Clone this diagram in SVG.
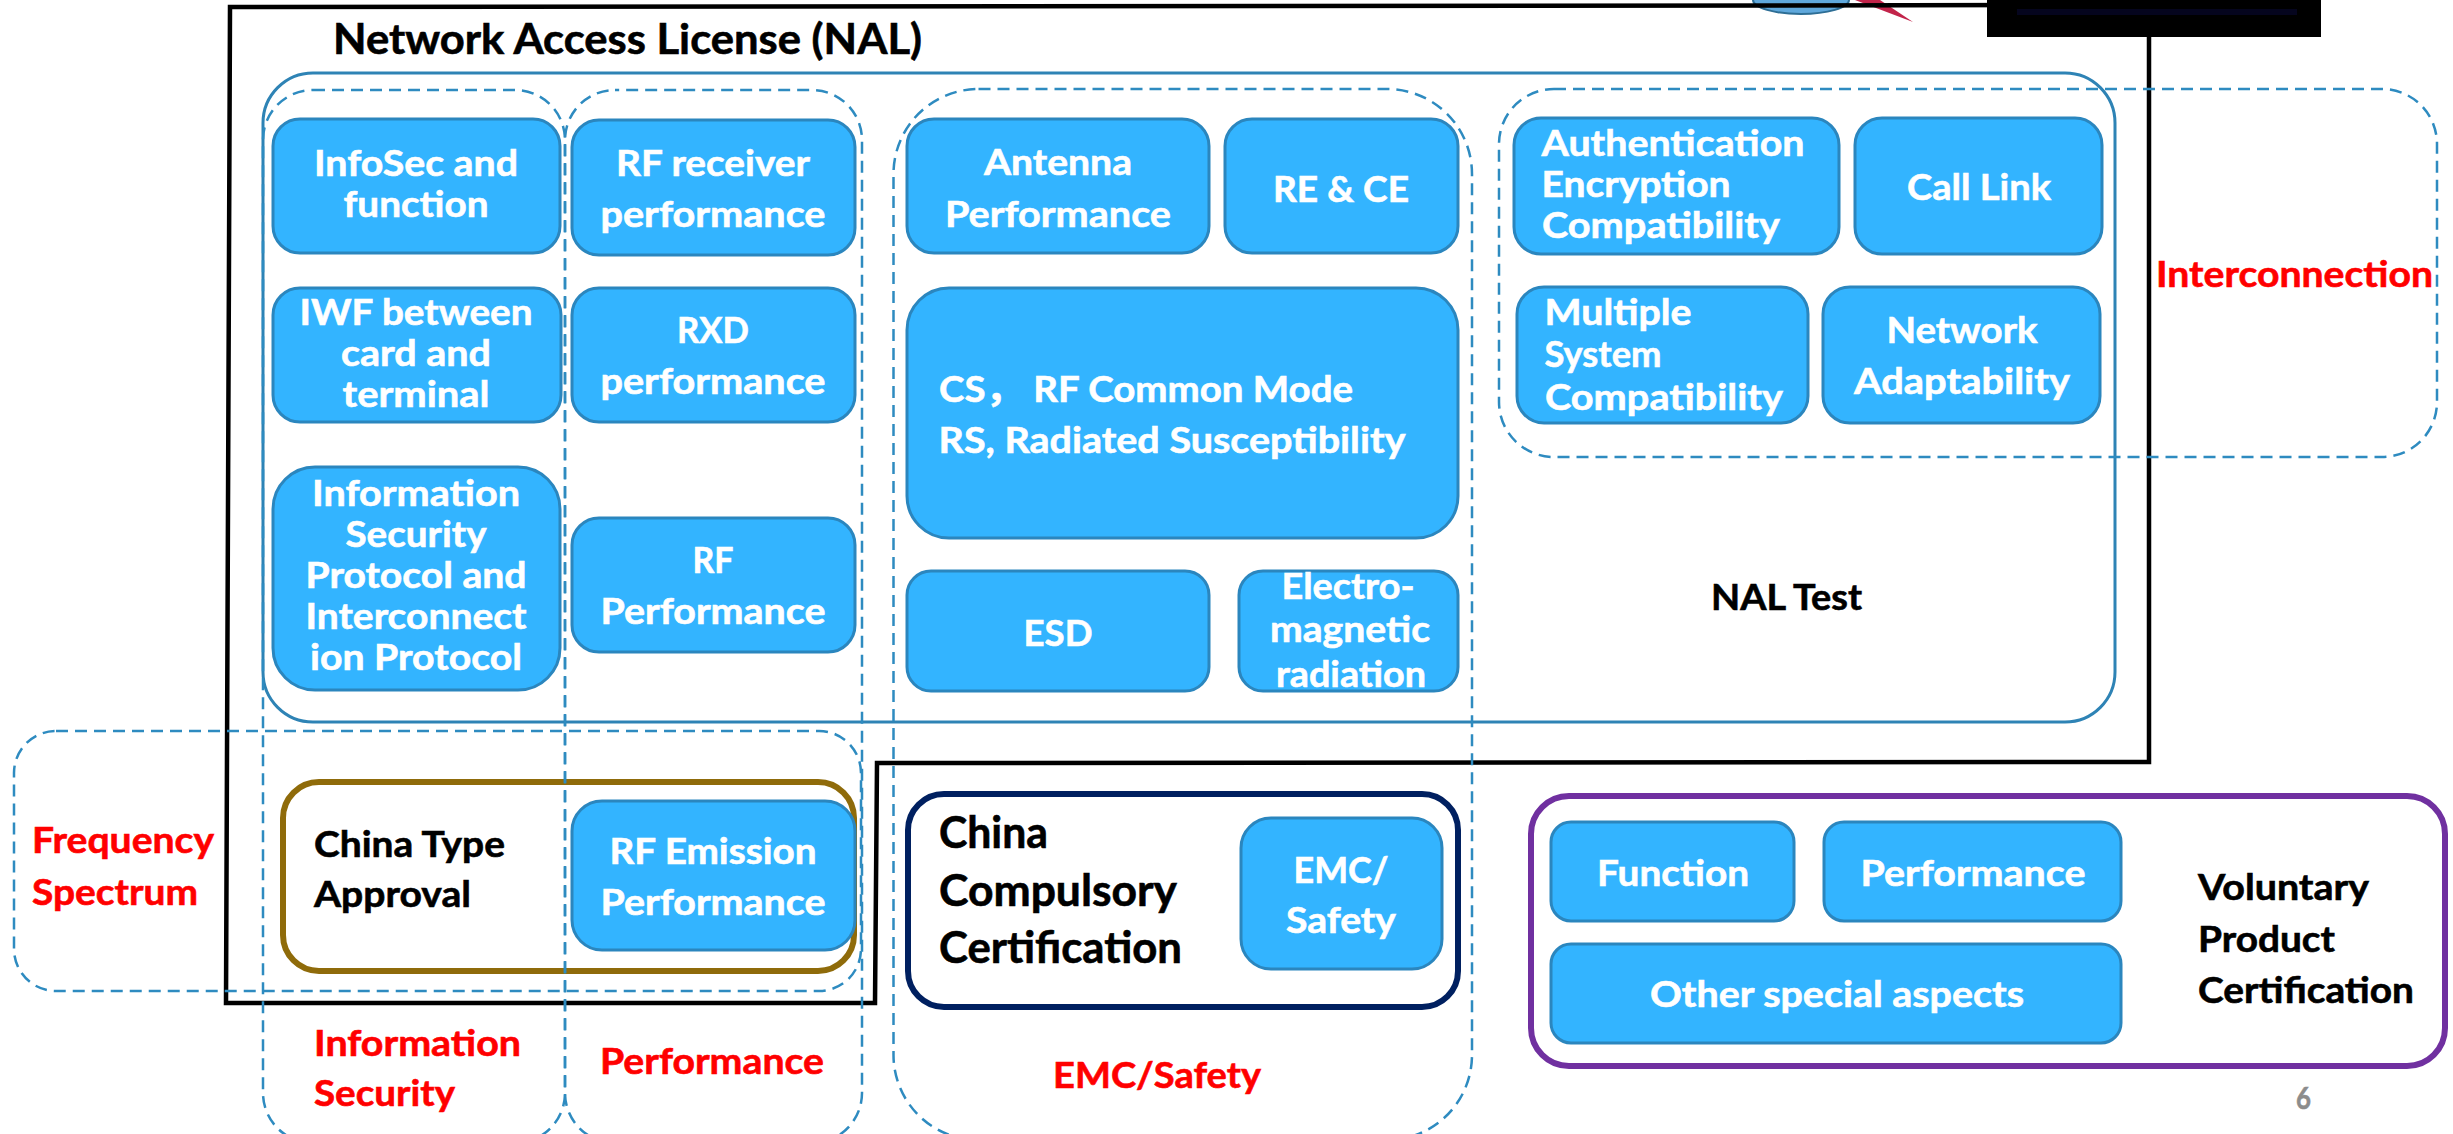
<svg xmlns="http://www.w3.org/2000/svg" width="2453" height="1134" viewBox="0 0 2453 1134">
<style>
text{font-family:Lato,"Noto Sans CJK SC",sans-serif;font-weight:700;font-size:37px;stroke-width:.6px;}
.w{fill:#fff;stroke:#fff;text-anchor:middle}
.k{fill:#000;stroke:#000}
.r{fill:#f00;stroke:#f00}
.b{fill:#33B4FF;stroke:#2B86BE;stroke-width:3}
.d{fill:none;stroke:#2E8BC0;stroke-width:2.5;stroke-dasharray:12 7}
.s{fill:none;stroke:#2E83B5;stroke-width:3}
</style>
<rect width="2453" height="1134" fill="#fff"/>
<g id="logo-fragment">
<ellipse cx="1801" cy="0" rx="48" ry="14" fill="#5FA8DC" stroke="#2E6E95" stroke-width="2"/>
<polygon points="1855,0 1880,0 1913,22" fill="#C2244A"/>
</g>
<g id="brand-frames">
<rect x="283" y="782" width="571" height="189" rx="36" fill="none" stroke="#8F6B0A" stroke-width="6"/>
<rect x="908" y="794" width="550" height="213" rx="36" fill="none" stroke="#002060" stroke-width="6"/>
<rect x="1531" y="796" width="914" height="270" rx="38" fill="none" stroke="#7030A0" stroke-width="6"/>
</g>
<g id="nal-frame">
<polygon points="230,7 2149,5 2149,762 877,763 875,1003 226,1003" fill="none" stroke="#000" stroke-width="4.5" stroke-linejoin="miter"/>
</g>
<g id="header-block">
<rect x="1987" y="0" width="334" height="37" fill="#000"/>
<rect x="2017" y="9" width="280" height="6" fill="#05051E"/>
</g>
<g id="nal-test-frame"><rect x="263" y="73" width="1852" height="649" rx="50" class="s"/></g>
<g id="n-infosec"><rect x="273" y="119" width="287" height="134" rx="27" class="b"/><text class="w" x="416" y="176" textLength="204" lengthAdjust="spacingAndGlyphs">InfoSec and</text><text class="w" x="416" y="217" textLength="145" lengthAdjust="spacingAndGlyphs">function</text></g>
<g id="n-rf-receiver"><rect x="572" y="120" width="283" height="135" rx="27" class="b"/><text class="w" x="713" y="176" textLength="194" lengthAdjust="spacingAndGlyphs">RF receiver</text><text class="w" x="713" y="227" textLength="225" lengthAdjust="spacingAndGlyphs">performance</text></g>
<g id="n-iwf"><rect x="273" y="288" width="288" height="134" rx="27" class="b"/><text class="w" x="416" y="325" textLength="233" lengthAdjust="spacingAndGlyphs">IWF between</text><text class="w" x="416" y="366" textLength="150" lengthAdjust="spacingAndGlyphs">card and</text><text class="w" x="416" y="407" textLength="147" lengthAdjust="spacingAndGlyphs">terminal</text></g>
<g id="n-rxd"><rect x="572" y="288" width="283" height="134" rx="27" class="b"/><text class="w" x="713" y="343" textLength="72" lengthAdjust="spacingAndGlyphs">RXD</text><text class="w" x="713" y="394" textLength="225" lengthAdjust="spacingAndGlyphs">performance</text></g>
<g id="n-protocol"><rect x="273" y="467" width="287" height="223" rx="42" class="b"/><text class="w" x="416" y="506" textLength="208" lengthAdjust="spacingAndGlyphs">Information</text><text class="w" x="416" y="547" textLength="141" lengthAdjust="spacingAndGlyphs">Security</text><text class="w" x="416" y="588" textLength="221" lengthAdjust="spacingAndGlyphs">Protocol and</text><text class="w" x="416" y="629" textLength="221" lengthAdjust="spacingAndGlyphs">Interconnect</text><text class="w" x="416" y="670" textLength="212" lengthAdjust="spacingAndGlyphs">ion Protocol</text></g>
<g id="n-rf-perf"><rect x="572" y="518" width="283" height="134" rx="27" class="b"/><text class="w" x="713" y="573" textLength="41" lengthAdjust="spacingAndGlyphs">RF</text><text class="w" x="713" y="624" textLength="225" lengthAdjust="spacingAndGlyphs">Performance</text></g>
<g id="n-rf-emission"><rect x="572" y="801" width="283" height="149" rx="30" class="b"/><text class="w" x="713" y="864" textLength="207" lengthAdjust="spacingAndGlyphs">RF Emission</text><text class="w" x="713" y="915" textLength="225" lengthAdjust="spacingAndGlyphs">Performance</text></g>
<g id="n-antenna"><rect x="907" y="119" width="302" height="134" rx="27" class="b"/><text class="w" x="1058" y="175" textLength="148" lengthAdjust="spacingAndGlyphs">Antenna</text><text class="w" x="1058" y="227" textLength="226" lengthAdjust="spacingAndGlyphs">Performance</text></g>
<g id="n-re-ce"><rect x="1225" y="119" width="233" height="134" rx="27" class="b"/><text class="w" x="1341" y="202" textLength="136" lengthAdjust="spacingAndGlyphs">RE &amp; CE</text></g>
<g id="n-cs-rs"><rect x="907" y="288" width="551" height="250" rx="42" class="b"/><text class="w" x="1146" y="402" textLength="414" lengthAdjust="spacingAndGlyphs">CS， RF Common Mode</text><text class="w" x="1172" y="453" textLength="467" lengthAdjust="spacingAndGlyphs">RS, Radiated Susceptibility</text></g>
<g id="n-esd"><rect x="907" y="571" width="302" height="120" rx="24" class="b"/><text class="w" x="1058" y="646" textLength="69" lengthAdjust="spacingAndGlyphs">ESD</text></g>
<g id="n-em-radiation"><rect x="1239" y="571" width="219" height="120" rx="24" class="b"/><text class="w" x="1348" y="599" textLength="133" lengthAdjust="spacingAndGlyphs">Electro-</text><text class="w" x="1350" y="642" textLength="160" lengthAdjust="spacingAndGlyphs">magnetic</text><text class="w" x="1351" y="687" textLength="150" lengthAdjust="spacingAndGlyphs">radiation</text></g>
<g id="n-auth"><rect x="1514" y="118" width="325" height="136" rx="27" class="b"/><text class="w" x="1673" y="156" textLength="263" lengthAdjust="spacingAndGlyphs">Authentication</text><text class="w" x="1636" y="197" textLength="189" lengthAdjust="spacingAndGlyphs">Encryption</text><text class="w" x="1661" y="238" textLength="238" lengthAdjust="spacingAndGlyphs">Compatibility</text></g>
<g id="n-call"><rect x="1855" y="118" width="247" height="136" rx="27" class="b"/><text class="w" x="1979" y="200" textLength="144" lengthAdjust="spacingAndGlyphs">Call Link</text></g>
<g id="n-multiple"><rect x="1517" y="287" width="291" height="136" rx="27" class="b"/><text class="w" x="1618" y="325" textLength="147" lengthAdjust="spacingAndGlyphs">Multiple</text><text class="w" x="1603" y="367" textLength="117" lengthAdjust="spacingAndGlyphs">System</text><text class="w" x="1664" y="410" textLength="238" lengthAdjust="spacingAndGlyphs">Compatibility</text></g>
<g id="n-network"><rect x="1823" y="287" width="277" height="136" rx="27" class="b"/><text class="w" x="1962" y="343" textLength="151" lengthAdjust="spacingAndGlyphs">Network</text><text class="w" x="1962" y="394" textLength="216" lengthAdjust="spacingAndGlyphs">Adaptability</text></g>
<g id="n-emc-safety"><rect x="1241" y="818" width="201" height="151" rx="30" class="b"/><text class="w" x="1341" y="883" textLength="95" lengthAdjust="spacingAndGlyphs">EMC/</text><text class="w" x="1341" y="933" textLength="110" lengthAdjust="spacingAndGlyphs">Safety</text></g>
<g id="n-function"><rect x="1551" y="822" width="243" height="99" rx="20" class="b"/><text class="w" x="1673" y="886" textLength="152" lengthAdjust="spacingAndGlyphs">Function</text></g>
<g id="n-performance"><rect x="1824" y="822" width="297" height="99" rx="20" class="b"/><text class="w" x="1973" y="886" textLength="225" lengthAdjust="spacingAndGlyphs">Performance</text></g>
<g id="n-other"><rect x="1551" y="944" width="570" height="99" rx="20" class="b"/><text class="w" x="1837" y="1007" textLength="374" lengthAdjust="spacingAndGlyphs">Other special aspects</text></g>
<g id="connectors">
<rect x="263" y="90" width="302" height="1053" rx="50" class="d"/>
<rect x="565" y="90" width="297" height="1053" rx="50" class="d" stroke-dashoffset="7.84"/>
<rect x="893.5" y="89" width="578.5" height="1051" rx="85" class="d"/>
<rect x="1499" y="89" width="938" height="368" rx="55" class="d"/>
<rect x="14" y="731" width="847" height="260" rx="42" class="d"/>
</g>
<g id="labels">
<text class="k" x="333" y="54" style="font-size:42px" textLength="589" lengthAdjust="spacingAndGlyphs">Network Access License (NAL)</text>
<text class="k" x="1711" y="610" textLength="151" lengthAdjust="spacingAndGlyphs">NAL Test</text>
<text class="k" x="314" y="857" textLength="191" lengthAdjust="spacingAndGlyphs">China Type</text>
<text class="k" x="314" y="907" textLength="157" lengthAdjust="spacingAndGlyphs">Approval</text>
<text class="k" x="939" y="848" style="font-size:43px" textLength="109" lengthAdjust="spacingAndGlyphs">China</text>
<text class="k" x="939" y="906" style="font-size:43px" textLength="238" lengthAdjust="spacingAndGlyphs">Compulsory</text>
<text class="k" x="939" y="963" style="font-size:43px" textLength="243" lengthAdjust="spacingAndGlyphs">Certification</text>
<text class="k" x="2198" y="900" textLength="171" lengthAdjust="spacingAndGlyphs">Voluntary</text>
<text class="k" x="2198" y="952" textLength="137" lengthAdjust="spacingAndGlyphs">Product</text>
<text class="k" x="2198" y="1003" textLength="216" lengthAdjust="spacingAndGlyphs">Certification</text>
<text class="r" x="2156" y="287" textLength="277" lengthAdjust="spacingAndGlyphs">Interconnection</text>
<text class="r" x="32" y="853" textLength="182" lengthAdjust="spacingAndGlyphs">Frequency</text>
<text class="r" x="32" y="905" textLength="166" lengthAdjust="spacingAndGlyphs">Spectrum</text>
<text class="r" x="314" y="1056" textLength="207" lengthAdjust="spacingAndGlyphs">Information</text>
<text class="r" x="314" y="1106" textLength="141" lengthAdjust="spacingAndGlyphs">Security</text>
<text class="r" x="600" y="1074" textLength="224" lengthAdjust="spacingAndGlyphs">Performance</text>
<text class="r" x="1053" y="1088" textLength="208" lengthAdjust="spacingAndGlyphs">EMC/Safety</text>
<text x="2296" y="1109" fill="#8C8C8C" stroke="#8C8C8C" style="font-size:30px" textLength="15" lengthAdjust="spacingAndGlyphs">6</text>
</g>
</svg>
